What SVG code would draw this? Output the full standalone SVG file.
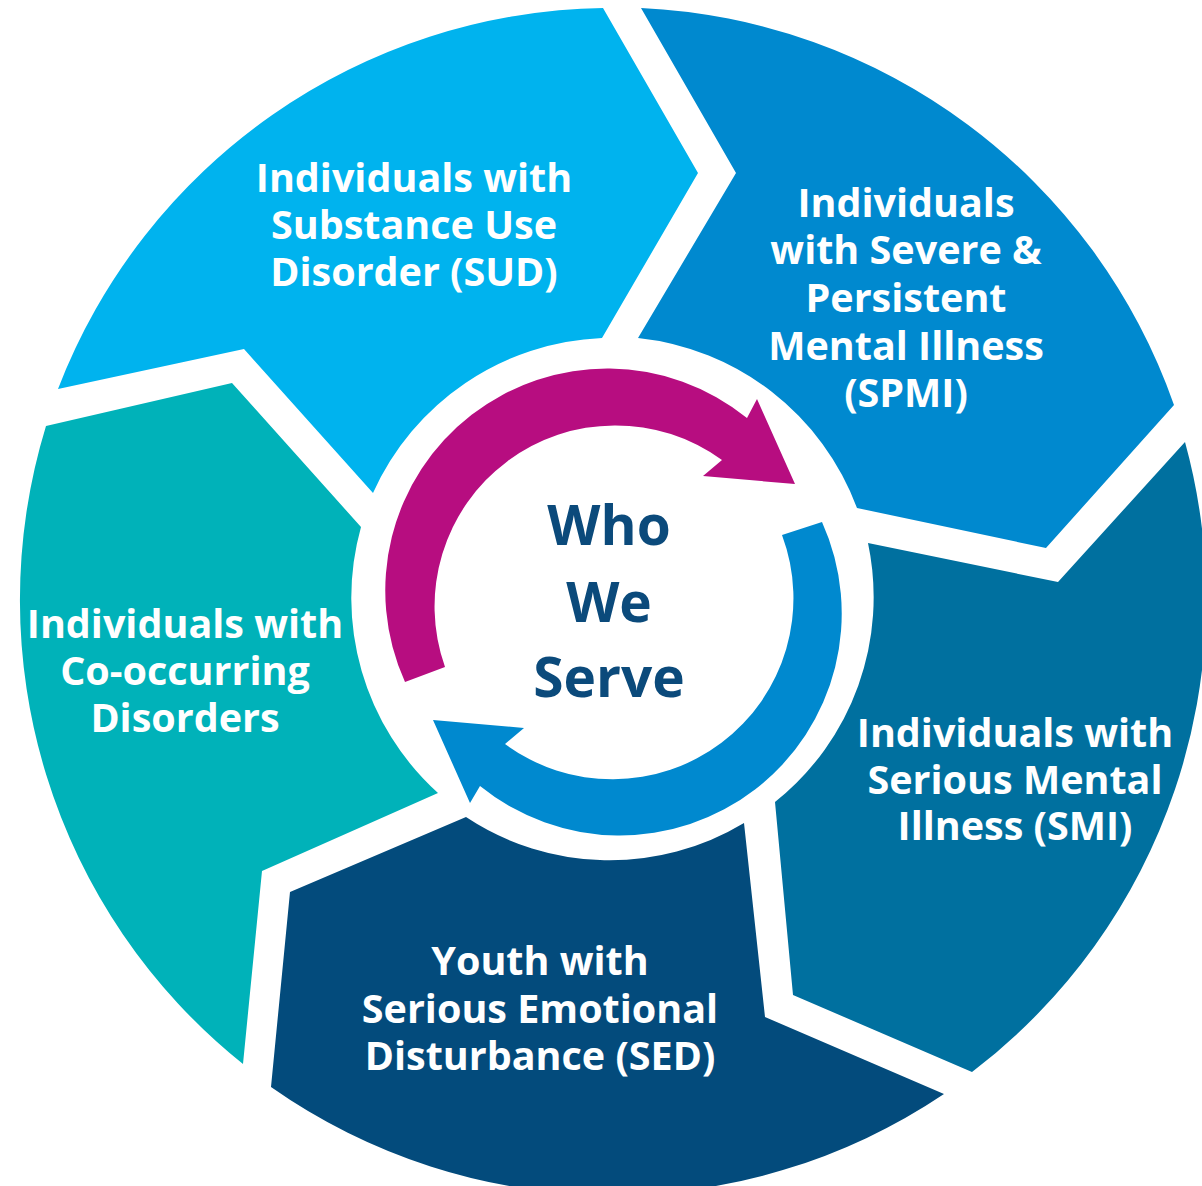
<svg xmlns="http://www.w3.org/2000/svg" width="1202" height="1186" viewBox="0 0 1202 1186">
<style>
.lbl{font-family:"Open Sans","Liberation Sans",sans-serif;font-weight:700;font-size:39.5px;fill:#ffffff;text-anchor:middle}
.ctr{font-family:"Open Sans","Liberation Sans",sans-serif;font-weight:700;font-size:55px;fill:#0B4A7B;text-anchor:middle}
</style>
<rect width="1202" height="1186" fill="#ffffff"/>
<g id="sud">
<path d="M 58,389 A 594 594 0 0 1 603,8 L 698,173 L 602,338 A 263 263 0 0 0 373,493 L 244,349 Z" fill="#00B3EE"/>
<text class="lbl" x="414" y="192">Individuals with</text>
<text class="lbl" x="414" y="239">Substance Use</text>
<text class="lbl" x="414" y="286">Disorder (SUD)</text>
</g>
<g id="spmi">
<path d="M 641,8 A 594 594 0 0 1 1174,405 L 1046,548 L 857,508 A 263 263 0 0 0 638,338 L 736,173 Z" fill="#0089CF"/>
<text class="lbl" x="906" y="217">Individuals</text>
<text class="lbl" x="906" y="264">with Severe &amp;</text>
<text class="lbl" x="906" y="312">Persistent</text>
<text class="lbl" x="906" y="360">Mental Illness</text>
<text class="lbl" x="906" y="407">(SPMI)</text>
</g>
<g id="smi">
<path d="M 1185,442 A 594 594 0 0 1 972,1072 L 793,995 L 775,802 A 262 262 0 0 0 868,543 L 1058,582 Z" fill="#00709F"/>
<text class="lbl" x="1015" y="747">Individuals with</text>
<text class="lbl" x="1015" y="794">Serious Mental</text>
<text class="lbl" x="1015" y="840">Illness (SMI)</text>
</g>
<g id="sed">
<path d="M 944,1094 A 594 594 0 0 1 271,1087 L 290,892 L 466,817 A 260 260 0 0 0 744,823 L 765,1017 Z" fill="#034B7C"/>
<text class="lbl" x="540" y="975">Youth with</text>
<text class="lbl" x="540" y="1023">Serious Emotional</text>
<text class="lbl" x="540" y="1070">Disturbance (SED)</text>
</g>
<g id="cod">
<path d="M 243,1064 A 594 594 0 0 1 46,426 L 232,383 L 361,527 A 263 263 0 0 0 438,793 L 262,871 Z" fill="#00B2B9"/>
<text class="lbl" x="185" y="638">Individuals with</text>
<text class="lbl" x="185" y="685">Co-occurring</text>
<text class="lbl" x="185" y="732">Disorders</text>
</g>
<g id="connectors">
<path d="M 405,682 A 222 222 0 0 1 747,418 L 757,399 L 795,484 L 703,476 L 722,460 A 181 181 0 0 0 445,667 Z" fill="#B70D80"/>
<path d="M 822,522 A 222 222 0 0 1 480,786 L 470,803 L 433,720 L 524,728 L 505,744 A 181 181 0 0 0 782,535 Z" fill="#0089CF"/>
</g>
<g id="center">
<text class="ctr" x="609" y="545">Who</text>
<text class="ctr" x="609" y="622">We</text>
<text class="ctr" x="609" y="697">Serve</text>
</g>
</svg>
